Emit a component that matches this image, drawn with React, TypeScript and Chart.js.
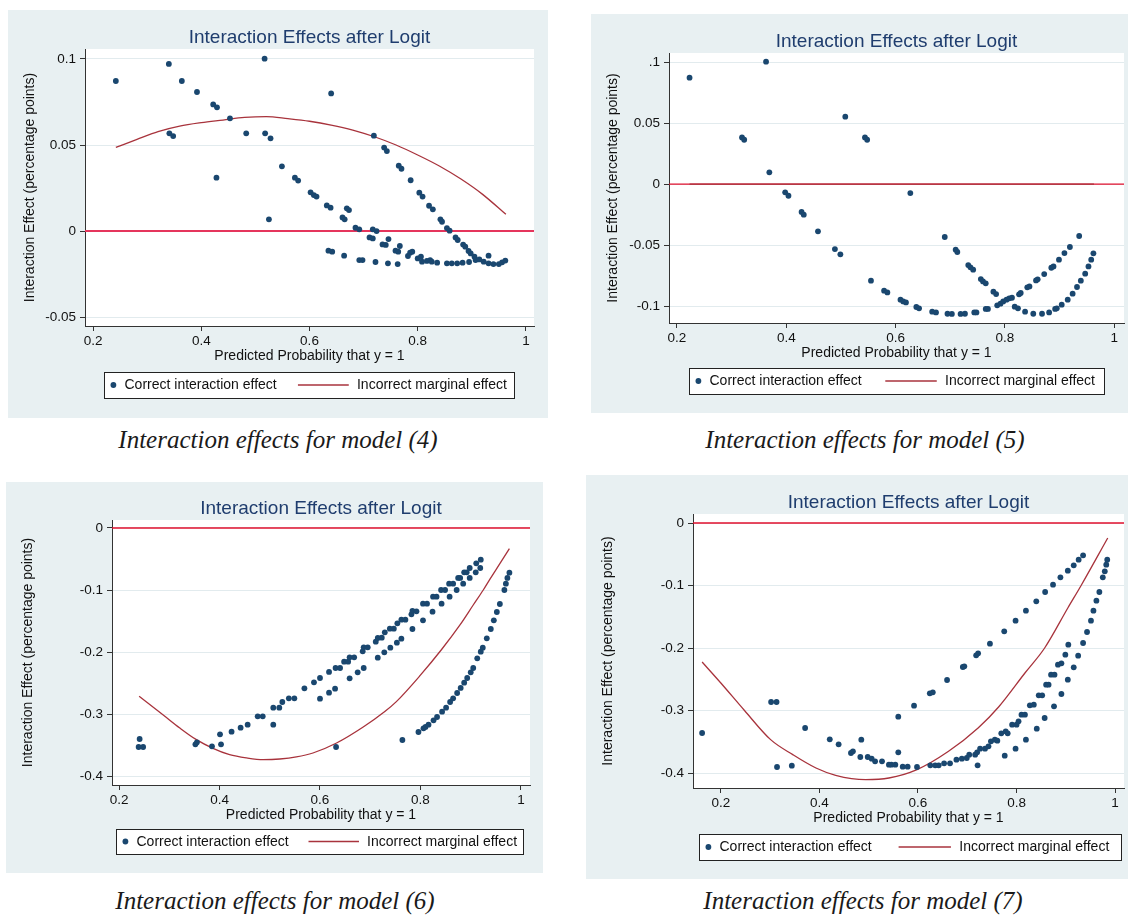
import React, { useEffect, useRef } from "react";
import { Chart, registerables } from "chart.js";

Chart.register(...registerables);

type Pt = [number, number];

// ---------------- DATA ----------------
const xTickValues = [0.2, 0.4, 0.6, 0.8, 1];
const xTickLabels = ["0.2", "0.4", "0.6", "0.8", "1"];

const m4YTicks = [-0.05, 0, 0.05, 0.1];
const m4YLabels = ["-0.05", "0", "0.05", "0.1"];
const m5YTicks = [-0.1, -0.05, 0, 0.05, 0.1];
const m5YLabels = ["-0.1", "-0.05", "0", "0.05", ".1"];
const m67YTicks = [-0.4, -0.3, -0.2, -0.1, 0];
const m67YLabels = ["-0.4", "-0.3", "-0.2", "-0.1", "0"];

const legendCorrect = "Correct interaction effect";
const legendMarginal = "Incorrect marginal effect";
const chartTitle = "Interaction Effects after Logit";
const yTitle = "Interaction Effect (percentage points)";
const xTitle = "Predicted Probability that y = 1";

const m4Correct: Pt[] = [
  [0.242, 0.0872], [0.340, 0.0971], [0.364, 0.0872], [0.392, 0.0808], [0.422, 0.0736],
  [0.429, 0.0719], [0.453, 0.0655], [0.341, 0.0568], [0.348, 0.0552], [0.428, 0.031],
  [0.483, 0.0568], [0.517, 0.1002], [0.518, 0.0568], [0.528, 0.0539], [0.525, 0.0068],
  [0.549, 0.0376], [0.573, 0.031], [0.579, 0.0293], [0.602, 0.0225], [0.608, 0.0209],
  [0.613, 0.02], [0.632, 0.0149], [0.639, 0.0136], [0.640, 0.08], [0.661, 0.0079],
  [0.665, 0.0068], [0.669, 0.0132], [0.673, 0.0122], [0.685, 0.0019], [0.692, 0.001],
  [0.719, 0.0554], [0.717, 0.001], [0.724, 0.0], [0.711, -0.0037], [0.717, -0.0043],
  [0.738, 0.0485], [0.743, 0.0465], [0.735, -0.0078], [0.741, -0.0081], [0.746, -0.0047],
  [0.759, -0.0114], [0.764, -0.012], [0.767, -0.0087], [0.765, 0.038], [0.770, 0.0362],
  [0.782, -0.0145], [0.786, -0.0126], [0.790, -0.012], [0.787, 0.0295], [0.803, 0.0223],
  [0.809, 0.02], [0.800, -0.0159], [0.808, -0.0178], [0.806, -0.0149], [0.821, 0.0147],
  [0.828, 0.0126], [0.817, -0.0174], [0.823, -0.0169], [0.826, -0.0178], [0.836, -0.0184],
  [0.842, 0.0068], [0.845, 0.0054], [0.854, 0.0017], [0.859, 0.0002], [0.854, -0.0188],
  [0.863, -0.0188], [0.870, -0.0037], [0.874, -0.0052], [0.873, -0.0188], [0.884, -0.0079],
  [0.888, -0.0091], [0.883, -0.0184], [0.894, -0.0116], [0.898, -0.013], [0.895, -0.018],
  [0.905, -0.0149], [0.907, -0.0169], [0.914, -0.0165], [0.922, -0.0178], [0.931, -0.0143],
  [0.931, -0.0188], [0.940, -0.0192], [0.950, -0.0192], [0.956, -0.0182], [0.962, -0.0172],
  [0.635, -0.0114], [0.642, -0.012], [0.664, -0.0143], [0.692, -0.0169], [0.698, -0.0169],
  [0.722, -0.018], [0.745, -0.0188], [0.763, -0.0192],
];
const m4Marginal: Pt[] = [
  [0.242, 0.0486], [0.28, 0.0531], [0.32, 0.0578], [0.36, 0.061], [0.40, 0.063],
  [0.44, 0.0645], [0.48, 0.066], [0.52, 0.0665], [0.56, 0.0653], [0.60, 0.0638],
  [0.64, 0.0616], [0.68, 0.0587], [0.72, 0.0548], [0.76, 0.05], [0.80, 0.0442],
  [0.84, 0.0378], [0.88, 0.0302], [0.92, 0.0213], [0.963, 0.0097],
];

const m5Correct: Pt[] = [
  [0.223, 0.0872], [0.363, 0.1003], [0.319, 0.0382], [0.323, 0.0363], [0.369, 0.0096],
  [0.398, -0.0068], [0.404, -0.0096], [0.428, -0.0229], [0.432, -0.0251], [0.458, -0.0388],
  [0.489, -0.0533], [0.499, -0.0576], [0.508, 0.0552], [0.544, 0.0382], [0.548, 0.0363],
  [0.555, -0.0792], [0.579, -0.0874], [0.585, -0.0888], [0.627, -0.0074], [0.609, -0.0948],
  [0.614, -0.0962], [0.619, -0.097], [0.638, -0.1008], [0.643, -0.1019], [0.667, -0.1046],
  [0.674, -0.1052], [0.690, -0.0434], [0.695, -0.1063], [0.703, -0.1065], [0.710, -0.0538],
  [0.713, -0.0557], [0.719, -0.1065], [0.727, -0.1063], [0.733, -0.0664], [0.737, -0.0683],
  [0.742, -0.0702], [0.744, -0.1052], [0.748, -0.1052], [0.756, -0.0779], [0.760, -0.0798],
  [0.765, -0.0814], [0.765, -0.1024], [0.769, -0.1024], [0.779, -0.0882], [0.784, -0.0902],
  [0.786, -0.0994], [0.792, -0.0981], [0.797, -0.0962], [0.803, -0.0948], [0.808, -0.0937],
  [0.813, -0.0932], [0.818, -0.1005], [0.824, -0.1019], [0.826, -0.0904], [0.829, -0.0893],
  [0.837, -0.1046], [0.841, -0.0847], [0.845, -0.0839], [0.852, -0.1063], [0.857, -0.079],
  [0.860, -0.0781], [0.868, -0.1063], [0.872, -0.0738], [0.881, -0.1052], [0.885, -0.0686],
  [0.889, -0.0675], [0.892, -0.1024], [0.895, -0.1019], [0.899, -0.062], [0.904, -0.0989],
  [0.909, -0.0566], [0.915, -0.0948], [0.919, -0.0516], [0.924, -0.0899], [0.932, -0.0844],
  [0.936, -0.0426], [0.939, -0.0792], [0.947, -0.0735], [0.953, -0.0675], [0.958, -0.062],
  [0.962, -0.0568],
];
const m5Marginal: Pt[] = [
  [0.223, 0.0], [0.4, 0.0], [0.6, 0.0], [0.8, 0.0], [0.963, 0.0],
];

const m6Correct: Pt[] = [
  [0.241, -0.3403], [0.239, -0.3532], [0.248, -0.3532], [0.352, -0.3489], [0.355, -0.3457],
  [0.385, -0.3521], [0.401, -0.3328], [0.403, -0.3489], [0.424, -0.3285], [0.442, -0.322],
  [0.456, -0.3172], [0.476, -0.3037], [0.486, -0.3037], [0.507, -0.3172], [0.507, -0.2898],
  [0.519, -0.2898], [0.525, -0.2806], [0.538, -0.2747], [0.549, -0.2747], [0.569, -0.2586],
  [0.588, -0.2489], [0.600, -0.2419], [0.600, -0.2753], [0.618, -0.2322], [0.618, -0.2656],
  [0.631, -0.2258], [0.630, -0.2591], [0.632, -0.3532], [0.640, -0.2258], [0.648, -0.2156],
  [0.656, -0.2156], [0.659, -0.2425], [0.659, -0.2086], [0.668, -0.2086], [0.675, -0.2328],
  [0.685, -0.1989], [0.687, -0.1925], [0.695, -0.1925], [0.687, -0.2258], [0.711, -0.1833],
  [0.715, -0.1774], [0.723, -0.1769], [0.715, -0.2091], [0.729, -0.1683], [0.728, -0.2005],
  [0.739, -0.1624], [0.747, -0.1624], [0.740, -0.193], [0.754, -0.1538], [0.753, -0.1849],
  [0.762, -0.1478], [0.770, -0.1478], [0.762, -0.1785], [0.764, -0.3419], [0.782, -0.1392],
  [0.784, -0.1339], [0.792, -0.1344], [0.784, -0.1629], [0.796, -0.329], [0.805, -0.122],
  [0.813, -0.122], [0.805, -0.1489], [0.806, -0.3231], [0.810, -0.3209], [0.816, -0.3172],
  [0.824, -0.1349], [0.825, -0.1107], [0.832, -0.1107], [0.826, -0.3102], [0.833, -0.3048],
  [0.842, -0.122], [0.841, -0.1], [0.849, -0.1], [0.843, -0.2962], [0.851, -0.2898],
  [0.858, -0.1107], [0.859, -0.2806], [0.857, -0.0898], [0.865, -0.0898], [0.865, -0.2747],
  [0.872, -0.1], [0.873, -0.2661], [0.875, -0.0806], [0.879, -0.0806], [0.880, -0.258],
  [0.885, -0.0898], [0.887, -0.2494], [0.887, -0.0715], [0.892, -0.0715], [0.893, -0.2419],
  [0.898, -0.0806], [0.900, -0.2328], [0.898, -0.0645], [0.905, -0.2258], [0.910, -0.0715],
  [0.911, -0.057], [0.913, -0.2102], [0.919, -0.0645], [0.920, -0.0511], [0.920, -0.1995],
  [0.924, -0.193], [0.932, -0.178], [0.940, -0.1629], [0.946, -0.1489], [0.952, -0.1355],
  [0.958, -0.1226], [0.967, -0.1], [0.970, -0.0898], [0.973, -0.0806], [0.977, -0.072],
];
const m6Marginal: Pt[] = [
  [0.240, -0.2715], [0.288, -0.3016], [0.321, -0.3226], [0.354, -0.3414], [0.387, -0.3554],
  [0.420, -0.3656], [0.454, -0.3709], [0.487, -0.3736], [0.520, -0.3726], [0.553, -0.3693],
  [0.586, -0.3629], [0.633, -0.3468], [0.686, -0.3210], [0.729, -0.2960], [0.752, -0.2800],
  [0.799, -0.2382], [0.842, -0.1960], [0.879, -0.1559], [0.905, -0.1242],
  [0.925, -0.1], [0.938, -0.0828], [0.958, -0.0575], [0.977, -0.0333],
];

const m7Correct: Pt[] = [
  [0.162, -0.336], [0.302, -0.2864], [0.313, -0.2864], [0.314, -0.3904], [0.344, -0.3882],
  [0.371, -0.328], [0.421, -0.3461], [0.439, -0.3541], [0.464, -0.368], [0.468, -0.3653],
  [0.485, -0.3466], [0.483, -0.3744], [0.498, -0.3744], [0.506, -0.377], [0.513, -0.3813],
  [0.527, -0.3813], [0.541, -0.3866], [0.546, -0.3866], [0.554, -0.3866], [0.560, -0.3098],
  [0.560, -0.3669], [0.569, -0.3898], [0.579, -0.3898], [0.592, -0.2922], [0.598, -0.3904],
  [0.624, -0.2725], [0.630, -0.2709], [0.625, -0.3877], [0.635, -0.3877], [0.642, -0.3877],
  [0.653, -0.3845], [0.659, -0.2512], [0.665, -0.3845], [0.678, -0.3786], [0.689, -0.377],
  [0.691, -0.2304], [0.694, -0.2293], [0.699, -0.376], [0.704, -0.3706], [0.716, -0.3706],
  [0.718, -0.2117], [0.722, -0.2085], [0.721, -0.3877], [0.720, -0.3669], [0.726, -0.361],
  [0.736, -0.361], [0.743, -0.3573], [0.746, -0.1931], [0.748, -0.3493], [0.756, -0.3466],
  [0.761, -0.3482], [0.769, -0.3365], [0.775, -0.1733], [0.776, -0.3722], [0.778, -0.3333],
  [0.782, -0.3365], [0.791, -0.3227], [0.798, -0.1563], [0.798, -0.361], [0.800, -0.3227],
  [0.804, -0.3173], [0.810, -0.3066], [0.817, -0.3066], [0.819, -0.1403], [0.819, -0.3466],
  [0.827, -0.2917], [0.835, -0.2906], [0.840, -0.1253], [0.841, -0.329], [0.845, -0.2757],
  [0.852, -0.2757], [0.858, -0.1104], [0.857, -0.312], [0.860, -0.2587], [0.865, -0.2587],
  [0.870, -0.2427], [0.877, -0.2427], [0.874, -0.0987], [0.876, -0.2933], [0.884, -0.2267],
  [0.891, -0.2245], [0.891, -0.2736], [0.889, -0.0869], [0.899, -0.2107], [0.904, -0.0763],
  [0.905, -0.1947], [0.904, -0.2507], [0.916, -0.2309], [0.916, -0.0677], [0.925, -0.2123],
  [0.926, -0.0587], [0.935, -0.192], [0.935, -0.0517], [0.943, -0.1744], [0.951, -0.1563],
  [0.956, -0.1403], [0.962, -0.1243], [0.968, -0.1104], [0.975, -0.0869], [0.979, -0.0773],
  [0.982, -0.0667], [0.984, -0.0587],
];
const m7Marginal: Pt[] = [
  [0.162, -0.2224], [0.2, -0.256], [0.248, -0.3], [0.301, -0.3466], [0.346, -0.3706],
  [0.393, -0.392], [0.433, -0.4037], [0.494, -0.4106], [0.541, -0.408], [0.598, -0.3946],
  [0.662, -0.3653], [0.722, -0.328], [0.764, -0.2940], [0.817, -0.2400],
  [0.857, -0.2], [0.904, -0.136], [0.931, -0.1], [0.985, -0.024],
];

// ---------------- STYLE / LAYOUT ----------------
const SANS = '"Liberation Sans", Arial, Helvetica, sans-serif';
const SERIF = '"Liberation Serif", "Times New Roman", serif';
const BG = "#e8f0f2";
const NAVY = "#1a476f";
const MAROON = "#a8333c";
const TITLE_COLOR = "#1f3d6e";
const AXIS_COLOR = "#333333";
const GRID_COLOR = "#e2ebee";
const TEXT_COLOR = "#111111";

interface PanelCfg {
  caption: string;
  correct: Pt[];
  marginal: Pt[];
  yTicks: number[];
  yLabels: string[];
  xRange: [number, number];
  yRange: [number, number];
  bg: { x: number; y: number; w: number; h: number };
  plot: { l: number; t: number; r: number; b: number };
  legend: { x: number; y: number; w: number; h: number };
  cap: { x: number; y: number };
  zeroColor: string;
  zeroWidth: number;
}

const panels: PanelCfg[] = [
  {
    caption: "Interaction effects for model (4)",
    correct: m4Correct, marginal: m4Marginal, yTicks: m4YTicks, yLabels: m4YLabels,
    xRange: [0.185, 1.015], yRange: [-0.0552, 0.1058],
    bg: { x: 8, y: 10, w: 540, h: 408 },
    plot: { l: 85, t: 49, r: 534, b: 326 },
    legend: { x: 104, y: 372, w: 410, h: 26 },
    cap: { x: 278, y: 448 },
    zeroColor: "#e5355c", zeroWidth: 2,
  },
  {
    caption: "Interaction effects for model (5)",
    correct: m5Correct, marginal: m5Marginal, yTicks: m5YTicks, yLabels: m5YLabels,
    xRange: [0.1854, 1.018], yRange: [-0.1139, 0.1074],
    bg: { x: 591, y: 14, w: 537, h: 399 },
    plot: { l: 669, t: 53, r: 1126, b: 323 },
    legend: { x: 689, y: 368, w: 415, h: 26 },
    cap: { x: 865, y: 448 },
    zeroColor: "#e0102e", zeroWidth: 1.3,
  },
  {
    caption: "Interaction effects for model (6)",
    correct: m6Correct, marginal: m6Marginal, yTicks: m67YTicks, yLabels: m67YLabels,
    xRange: [0.186, 1.018], yRange: [-0.4145, 0.0129],
    bg: { x: 6, y: 482, w: 537, h: 391 },
    plot: { l: 112, t: 520, r: 530, b: 785 },
    legend: { x: 116, y: 829, w: 407, h: 25 },
    cap: { x: 275, y: 909 },
    zeroColor: "#e0102e", zeroWidth: 1.3,
  },
  {
    caption: "Interaction effects for model (7)",
    correct: m7Correct, marginal: m7Marginal, yTicks: m67YTicks, yLabels: m67YLabels,
    xRange: [0.1435, 1.018], yRange: [-0.424, 0.0144],
    bg: { x: 586, y: 475, w: 542, h: 404 },
    plot: { l: 693, t: 514, r: 1127, b: 788 },
    legend: { x: 699, y: 834, w: 422, h: 26 },
    cap: { x: 863, y: 909 },
    zeroColor: "#e0102e", zeroWidth: 1.3,
  },
];

function Panel({ cfg }: { cfg: PanelCfg }) {
  const ref = useRef<HTMLCanvasElement | null>(null);

  useEffect(() => {
    const canvas = ref.current;
    if (!canvas) return;
    const { bg, plot, legend } = cfg;
    const yAxisW = plot.l - bg.x;
    const xAxisH = 40;

    const deco = {
      id: "deco",
      beforeDraw(chart: any) {
        const ctx = chart.ctx as CanvasRenderingContext2D;
        const a = chart.chartArea;
        ctx.save();
        ctx.fillStyle = BG;
        ctx.fillRect(0, 0, chart.width, chart.height);
        ctx.fillStyle = "#ffffff";
        ctx.fillRect(a.left, a.top, a.right - a.left, a.bottom - a.top);
        ctx.restore();
      },
      afterDraw(chart: any) {
        const ctx = chart.ctx as CanvasRenderingContext2D;
        const a = chart.chartArea;
        ctx.save();
        ctx.font = `19px ${SANS}`;
        ctx.fillStyle = TITLE_COLOR;
        ctx.textAlign = "center";
        ctx.textBaseline = "alphabetic";
        ctx.fillText(chartTitle, (a.left + a.right) / 2, a.top - 6.5);
        const lx = legend.x - bg.x;
        const ly = legend.y - bg.y;
        const cy = ly + legend.h / 2;
        ctx.fillStyle = "#ffffff";
        ctx.fillRect(lx, ly, legend.w, legend.h);
        ctx.strokeStyle = "#222222";
        ctx.lineWidth = 1;
        ctx.strokeRect(lx + 0.5, ly + 0.5, legend.w, legend.h);
        ctx.fillStyle = NAVY;
        ctx.beginPath();
        ctx.arc(lx + 9.4, cy, 2.9, 0, Math.PI * 2);
        ctx.fill();
        ctx.font = `14px ${SANS}`;
        ctx.fillStyle = TEXT_COLOR;
        ctx.textAlign = "left";
        ctx.textBaseline = "middle";
        ctx.fillText(legendCorrect, lx + 20.5, cy + 0.5);
        ctx.strokeStyle = MAROON;
        ctx.lineWidth = 1.3;
        ctx.beginPath();
        ctx.moveTo(lx + legend.w * 0.473, cy);
        ctx.lineTo(lx + legend.w * 0.597, cy);
        ctx.stroke();
        ctx.fillText(legendMarginal, lx + legend.w * 0.617, cy + 0.5);
        ctx.restore();
      },
    };

    const toXY = (arr: Pt[]) => arr.map(([x, y]) => ({ x, y }));

    const chart = new Chart(canvas, {
      type: "scatter",
      data: {
        datasets: [
          {
            label: "zero",
            data: [
              { x: cfg.xRange[0], y: 0 },
              { x: cfg.xRange[1], y: 0 },
            ],
            showLine: true,
            borderColor: cfg.zeroColor,
            borderWidth: cfg.zeroWidth,
            pointRadius: 0,
            order: 3,
          },
          {
            label: legendMarginal,
            data: toXY(cfg.marginal),
            showLine: true,
            borderColor: MAROON,
            borderWidth: 1.3,
            pointRadius: 0,
            cubicInterpolationMode: "monotone",
            order: 2,
          },
          {
            label: legendCorrect,
            data: toXY(cfg.correct),
            backgroundColor: NAVY,
            borderWidth: 0,
            pointRadius: 2.9,
            order: 1,
          },
        ],
      },
      options: {
        responsive: false,
        animation: false,
        devicePixelRatio: 1,
        events: [],
        layout: {
          padding: {
            left: 0,
            top: plot.t - bg.y,
            right: bg.x + bg.w - plot.r,
            bottom: bg.y + bg.h - plot.b - xAxisH,
          },
        },
        plugins: {
          legend: { display: false },
          tooltip: { enabled: false },
          title: { display: false },
        },
        scales: {
          x: {
            type: "linear",
            min: cfg.xRange[0],
            max: cfg.xRange[1],
            afterBuildTicks: (s: any) => {
              s.ticks = xTickValues.map((v) => ({ value: v }));
            },
            afterFit: (s: any) => {
              s.height = xAxisH;
              s.paddingLeft = 0;
              s.paddingRight = 0;
            },
            ticks: {
              autoSkip: false,
              maxRotation: 0,
              padding: 2.5,
              color: TEXT_COLOR,
              font: { family: SANS, size: 13.5 },
              callback: (v: any) => {
                const i = xTickValues.findIndex((t) => Math.abs(t - Number(v)) < 1e-9);
                return i >= 0 ? xTickLabels[i] : "";
              },
            },
            grid: {
              drawOnChartArea: false,
              drawTicks: true,
              tickLength: 5,
              color: AXIS_COLOR,
              tickColor: AXIS_COLOR,
            },
            border: { display: true, color: AXIS_COLOR, width: 1 },
            title: {
              display: true,
              text: xTitle,
              color: TEXT_COLOR,
              font: { family: SANS, size: 14 },
              padding: { top: 0, bottom: 1.6 },
            },
          },
          y: {
            type: "linear",
            min: cfg.yRange[0],
            max: cfg.yRange[1],
            afterBuildTicks: (s: any) => {
              s.ticks = cfg.yTicks.map((v) => ({ value: v }));
            },
            afterFit: (s: any) => {
              s.width = yAxisW;
              s.paddingTop = 0;
              s.paddingBottom = 0;
            },
            ticks: {
              autoSkip: false,
              padding: 4,
              color: TEXT_COLOR,
              font: { family: SANS, size: 13.5 },
              callback: (v: any) => {
                const i = cfg.yTicks.findIndex((t) => Math.abs(t - Number(v)) < 1e-9);
                return i >= 0 ? cfg.yLabels[i] : "";
              },
            },
            grid: {
              drawOnChartArea: true,
              drawTicks: true,
              tickLength: 5,
              color: GRID_COLOR,
              tickColor: AXIS_COLOR,
              lineWidth: 1,
            },
            border: { display: true, color: AXIS_COLOR, width: 1 },
            title: {
              display: true,
              text: yTitle,
              color: TEXT_COLOR,
              font: { family: SANS, size: 14 },
              padding: { top: 13.5, bottom: 0 },
            },
          },
        },
      },
      plugins: [deco],
    } as any);

    return () => chart.destroy();
  }, [cfg]);

  return (
    <>
      <canvas
        ref={ref}
        width={cfg.bg.w}
        height={cfg.bg.h}
        style={{
          position: "absolute",
          left: cfg.bg.x,
          top: cfg.bg.y,
          width: cfg.bg.w,
          height: cfg.bg.h,
          display: "block",
        }}
      />
      <div
        style={{
          position: "absolute",
          left: cfg.cap.x - 250,
          top: cfg.cap.y - 23.4,
          width: 500,
          textAlign: "center",
          fontFamily: SERIF,
          fontStyle: "italic",
          fontSize: 25,
          lineHeight: "30px",
          color: "#1a1a1a",
          whiteSpace: "nowrap",
        }}
      >
        {cfg.caption}
      </div>
    </>
  );
}

export default function App() {
  return (
    <div
      style={{
        position: "absolute",
        left: 0,
        top: 0,
        width: 1128,
        height: 915,
        background: "#ffffff",
        overflow: "hidden",
      }}
    >
      {panels.map((p, i) => (
        <Panel key={i} cfg={p} />
      ))}
    </div>
  );
}
